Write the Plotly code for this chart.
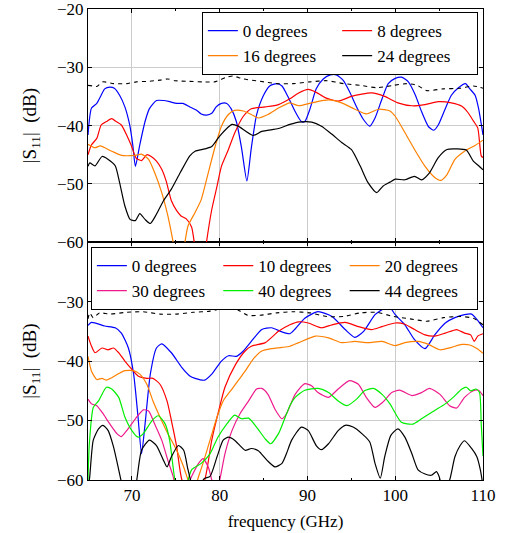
import plotly.graph_objects as go

# ---------------- top panel data ----------------
TOP_NAMES = ["0 degrees", "8 degrees", "16 degrees", "24 degrees"]

top_f_0 = [65, 65.4, 66, 66.5, 66.9, 67.5, 68, 68.6, 69.2, 69.75, 70.1, 70.4, 70.9, 71.5, 72, 72.8, 73.6, 74.3, 75.1, 75.8,
           76.6, 77.4, 77.9, 78.5, 79.1, 79.6, 80.2, 80.8, 81.3, 81.9, 82.5, 83.1, 83.6, 84.2, 85, 85.7, 86.5, 87.1, 87.8, 88.6,
           89.3, 89.7, 90.3, 91, 91.8, 92.6, 93.3, 94.1, 94.8, 95.6, 96.4, 97.1, 97.7, 98.5, 99.2, 100, 100.7, 101.5, 102.3, 103,
           103.8, 104.4, 104.9, 105.7, 106.4, 107.2, 108, 108.5, 109.1, 109.5, 110]
top_db_0 = [-41.6, -37, -36.2, -34.8, -33.7, -33.4, -33.6, -34.8, -36.8, -39.9, -43.3, -47, -43.3, -39.3, -37.1, -35.7, -35.7, -35.9, -36.2, -36.2,
            -36.8, -37.4, -38, -38.2, -37.9, -36.8, -36.2, -36.2, -37.1, -39.3, -43.9, -49.5, -43.9, -38.2, -34.8, -33.2, -32.8, -33.2, -35.1, -37.6,
            -39.3, -39.3, -37.1, -33.7, -32, -31.3, -31.3, -32.3, -34.2, -36.8, -39, -40.1, -38.7, -35.4, -32.8, -31.9, -31.7, -32.5, -34.8, -37.6,
            -40.2, -40.8, -39.9, -37.1, -34.8, -33.5, -32.8, -33.7, -34.8, -37.1, -41.6]

top_f_8 = [65, 65.4, 66, 66.5, 67.1, 67.7, 68.2, 68.8, 69.4, 69.9, 70.5, 71.1, 71.7, 72.2, 72.8, 73.4, 73.9, 74.5, 75.1, 75.6,
           76.2, 76.8, 77.1, 77.8, 78.5, 79.1, 79.7, 80.2, 81, 81.7, 82.7, 83.6, 85.2, 86.7, 88, 89, 90.1, 91, 92, 93.5,
           95, 96.2, 97.3, 98.8, 100.3, 101.9, 103.4, 104.9, 106.4, 107.6, 108.3, 108.9, 109.4, 109.8, 110]
top_db_8 = [-45, -43.3, -42.2, -39.9, -39.3, -38.8, -39.3, -39.9, -41.6, -43.3, -45.6, -46, -45, -45.3, -46.1, -47.5, -49.5, -52.9, -54.6, -55.5,
            -56, -57.4, -60, -68, -60, -54.4, -50.4, -47, -44.1, -41.3, -38.4, -37.1, -36.8, -36.4, -35.4, -34.4, -33.8, -34.3, -35.2, -35.8,
            -35, -34.6, -34.4, -35, -36.1, -36.6, -36.4, -35.9, -36.1, -36.7, -37.8, -39.2, -40.4, -45.2, -45.5]

top_f_16 = [65, 65.8, 66.4, 67.7, 68.8, 70.4, 71.1, 71.9, 72.6, 73.4, 74.1, 74.7, 75.4, 76, 76.4, 77.2, 77.9, 78.7, 79.5, 80.2,
            81, 81.7, 82.7, 83.6, 84.4, 85.5, 86.7, 88, 89, 90.5, 92.4, 93.9, 95.4, 96.7, 98.1, 99.4, 100, 101.1, 102.2, 103.4,
            104.5, 105.2, 105.9, 106.8, 107.9, 109.1, 110]
top_db_16 = [-43.2, -43.8, -43.5, -44.4, -45.1, -45.1, -44.9, -45.8, -48.1, -51.5, -55.5, -60, -66, -60.4, -57.2, -54.9, -52.7, -48.1, -43.5, -40.1,
             -38.1, -37.4, -37.5, -38.1, -38.7, -38.1, -37, -36.1, -36.6, -36.1, -35.6, -36.1, -37.2, -38, -37.2, -37.5, -38.4, -41.2, -44.1, -47,
             -48.9, -49.4, -48.4, -45.8, -44.4, -43.4, -42.5]

top_f_24 = [65, 65.2, 65.8, 66.6, 67.3, 68.1, 68.6, 69.2, 69.8, 70.4, 70.9, 71.5, 72.1, 72.8, 73.6, 74.5, 75.5, 76.6, 77.2, 78.3,
            79.1, 80, 81.4, 82.1, 83.8, 84.8, 86.7, 88, 89, 90.5, 91.6, 92.8, 93.9, 95, 96, 96.9, 97.9, 98.6, 99.4, 100,
            101.1, 102.2, 103, 103.9, 104.9, 105.9, 107, 108.1, 108.9, 109.5, 110]
top_db_24 = [-47, -46.4, -46.9, -45.3, -45.8, -46.9, -49.8, -53.8, -56.1, -56.3, -55.1, -56.1, -56.8, -55.2, -52.9, -50.9, -48.1, -45.2, -44.4, -44,
             -43.6, -41.8, -39.8, -40.1, -41.7, -41, -40.5, -39.8, -39.4, -39.4, -40.1, -41.5, -42.9, -44.1, -46.9, -49.8, -51.5, -50.4, -49.7, -49.2,
             -49.3, -48.7, -49.3, -48.1, -45.5, -44.1, -44, -44.2, -46.1, -46.9, -47.6]

top_f_ref = [65, 65.5, 66, 66.7, 67.9, 69.4, 70.5, 72, 73.2, 74.1, 74.9, 76.2, 78.1, 79.4, 80.8, 81.5, 82.7, 84.6, 86.5, 88.4,
             90.3, 92.2, 94.1, 96, 97.9, 99.8, 101.3, 102.5, 103.6, 105.5, 107.4, 108.9, 110]
top_db_ref = [-33.1, -33.2, -33.3, -32.5, -32.8, -32.8, -32.5, -32.4, -32.2, -32, -32.3, -32.4, -32.5, -32.5, -31.7, -31.5, -32, -32.4, -32.8, -32.8,
              -32.5, -32.3, -32.8, -33.1, -33.5, -33.1, -32.8, -33.1, -34, -33.7, -33.6, -33.2, -33.6]

# ---------------- bottom panel data ----------------
BOT_NAMES = ["0 degrees", "10 degrees", "20 degrees", "30 degrees", "40 degrees", "44 degrees"]

bot_f_0 = [65, 65.4, 66.9, 68.1, 68.8, 69.6, 70.2, 70.7, 71.1, 71.5, 72.1, 72.8, 73.4, 74.5, 75.7, 76.6, 77.2, 78.3, 79.1, 80.2,
           81, 81.9, 82.7, 83.6, 84.8, 85.9, 87.1, 88, 88.6, 89.7, 91.2, 92.8, 94.3, 95.4, 96.4, 97.7, 98.8, 99.4, 100, 101.1,
           102.2, 103.4, 104.5, 105.7, 106.8, 107.9, 108.7, 109.3, 110]
bot_db_0 = [-34, -33.5, -34.1, -34.4, -35.3, -37.8, -42.2, -49.4, -55.6, -50.6, -42.2, -37.8, -37.1, -38.6, -41.1, -42.5, -42.9, -43.2, -42.2, -40,
            -39.1, -39.2, -38.3, -36.7, -34.7, -34.4, -35.1, -35.4, -34.6, -32.8, -31.7, -32.5, -34.7, -36, -35, -32.2, -31.1, -31, -32.2, -33.9,
            -36.4, -37.9, -35.6, -33.6, -32.7, -32.2, -32.1, -33, -34.4]

bot_f_10 = [65, 65.4, 65.8, 66.6, 67.3, 67.9, 68.5, 69.2, 70, 70.7, 71.7, 72.4, 73.2, 74, 74.5, 75.1, 75.7, 77, 78.3, 79.1,
            79.9, 80.6, 81.8, 82.9, 83.6, 85.2, 86.7, 88, 89, 90.1, 91.6, 92.8, 94.3, 95.8, 97.3, 98.5, 100, 101.1, 102.2, 103.4,
            104.5, 105.7, 107, 107.9, 108.6, 109, 109.4, 110]
bot_db_10 = [-35.8, -37.5, -38.6, -37.8, -38.1, -37.8, -38.6, -40, -41.4, -42.5, -42.9, -42.9, -43.9, -46.7, -50, -54.4, -60, -64, -60, -53.3,
             -48.3, -44.4, -40.6, -38.3, -37.5, -36.9, -35, -33.9, -33.4, -33.6, -34.4, -33.9, -33.5, -34.2, -34.7, -34.2, -33.6, -33.8, -34.7, -35.6,
             -35.8, -35.3, -34.7, -35.3, -35.6, -36.7, -35.8, -35.4]

bot_f_20 = [65, 65.4, 66, 66.6, 67.1, 67.7, 68.5, 69.2, 70.2, 70.9, 71.7, 72.4, 73.2, 74.1, 75.1, 75.9, 76.4, 77, 77.6, 78.1,
            78.9, 79.7, 80.4, 81.4, 82.1, 82.9, 83.8, 84.8, 85.9, 87.1, 88, 89, 90.9, 92.4, 93.9, 95.4, 96.9, 98.5, 100, 101.1,
            102.6, 103.8, 105.1, 106.4, 107.6, 108.5, 109.3, 110]
bot_db_20 = [-39.2, -41.7, -43.1, -42.9, -43.2, -42.8, -42.1, -41.6, -41.6, -42.2, -43.9, -46.7, -49.4, -52.2, -55, -57.8, -60, -62, -59.4, -57.2,
             -53.3, -49.4, -46.7, -44.7, -43.3, -41.7, -39.7, -38.3, -37.9, -37.7, -37.5, -36.9, -35.8, -36.1, -36.9, -36.7, -36.9, -36.7, -37.4, -36.9,
             -36.7, -37.2, -38.1, -37.7, -37.2, -37.3, -37.9, -38.7]

bot_f_30 = [65, 65.4, 66, 66.6, 67.5, 68.3, 68.8, 69.4, 70.4, 71.3, 71.9, 72.6, 73.4, 74.1, 74.7, 75.4, 76.8, 77.6, 78.1, 78.7,
            79.1, 79.5, 80, 80.6, 81.4, 82.3, 83.3, 84.2, 84.8, 85.5, 86.3, 87.1, 87.6, 88.6, 89.7, 90.5, 91.2, 92.4, 93.5, 94.8,
            95.8, 96.7, 97.7, 98.6, 99.6, 100.5, 101.9, 103, 103.9, 105.1, 106.2, 107, 107.9, 108.9, 109.5, 110]
bot_db_30 = [-46.4, -47.2, -47.5, -48.6, -50.6, -52.2, -52.7, -51.7, -49.7, -48.2, -48.4, -50.6, -53.3, -56.7, -59.4, -64, -59.4, -57.2, -56.4, -57.8,
             -60, -62, -60, -55.6, -51.7, -48.9, -46.7, -44.7, -44.6, -45.6, -48.1, -49.7, -48.9, -45.6, -43.8, -44.2, -45.3, -46.1, -44.7, -43.3,
             -43.9, -46.1, -47.8, -46.9, -45.3, -44.9, -45.8, -45.3, -44.6, -45.6, -47.5, -47.9, -46.1, -45, -44.9, -45.8]

bot_f_40 = [65, 65.15, 65.6, 66.2, 67.1, 67.7, 68.5, 69.2, 70, 70.7, 71.3, 72.3, 73, 73.8, 74.3, 74.9, 75.5, 76.3, 76.8, 77.9,
            78.9, 79.8, 80.8, 81.7, 82.5, 83.3, 84.2, 85.2, 85.8, 86.7, 87.4, 88, 88.6, 89.7, 91.2, 92.4, 93.5, 94.5, 95.6, 96.5,
            97.5, 98.5, 99.4, 100.7, 102, 103, 104.5, 105.7, 106.6, 107.6, 108.1, 108.6, 109.2, 109.6, 109.8, 110]
bot_db_40 = [-60, -54, -47.8, -46.7, -44.4, -44.7, -46.1, -49.4, -51.7, -52.8, -52.2, -50, -49.2, -50.6, -53.3, -60, -63, -60.5, -58.3, -57.2,
             -55.6, -52.8, -50.6, -49.1, -49.7, -49.6, -51.1, -53.1, -53.9, -52.2, -49.7, -47.5, -46.1, -44.9, -44.6, -45.3, -46.7, -47.5, -46.4, -45,
             -44.6, -45.6, -47.2, -50.3, -50.6, -49.7, -48.3, -47.2, -46.1, -44.7, -44.4, -45, -44.7, -45.3, -50.6, -56]

bot_f_44 = [65, 65.2, 65.6, 66.2, 66.7, 67.3, 67.9, 68.5, 68.9, 69.6, 70.5, 71.1, 72, 72.8, 73.6, 74, 74.5, 75.3, 75.9, 76.4,
            77.3, 78.2, 78.9, 79.7, 80.4, 81, 81.7, 82.9, 83.6, 84.4, 85.4, 86.3, 87.1, 87.6, 88.2, 89.3, 90.1, 91, 91.6, 92.4,
            93.5, 94.3, 95.2, 96.2, 97.1, 97.7, 98.3, 98.8, 99.5, 100.3, 101.1, 101.9, 102.6, 103.4, 104.1, 104.7, 105, 105.5, 106.2, 106.8,
            107.4, 107.9, 108.7, 109.3, 109.7, 110]
bot_db_44 = [-62, -59.4, -53.3, -51.4, -50.8, -51.7, -54.4, -58.3, -61, -66, -60.5, -55, -53.3, -54.2, -56.7, -57.8, -56.1, -54.2, -55, -58.3,
             -63, -59.8, -59.4, -56.1, -53.3, -52.8, -53.3, -55, -54.7, -55.1, -56.7, -57.8, -57.2, -55.6, -53.3, -51.1, -51.7, -54.2, -54.9, -53.9,
             -51.7, -50.8, -51.1, -52.2, -53.6, -57.2, -59.7, -56.1, -52.5, -51.4, -52.8, -55.6, -58.3, -59, -59.2, -58.6, -59.4, -62, -60, -56.1,
             -54.2, -53.4, -54.7, -56.1, -58.3, -61]

bot_f_ref = [65, 65.2, 65.6, 66.3, 67.5, 69.4, 71.3, 73.2, 75.1, 77, 78.9, 80.4, 81.3, 82.1, 83.2, 84.6, 86.5, 88.4, 90.3, 92.2,
             94.1, 96, 97.9, 99.8, 101.7, 103.6, 105.5, 107.4, 108.9, 110]
bot_db_ref = [-32.9, -31.9, -32.7, -31.9, -32.1, -31.8, -31.7, -32.1, -32.1, -31.8, -31.6, -31.1, -30.7, -31.4, -32.3, -32.3, -31.9, -31.7, -31.9, -32.5,
              -32.5, -31.9, -31.8, -32.5, -32.9, -33.3, -32.7, -32.5, -32.8, -33.9]

X_TICKS = [70, 80, 90, 100, 110]
TOP_Y_TICKS = [-60, -50, -40, -30, -20]
BOT_Y_TICKS = [-60, -50, -40, -30]

BLUE, RED, ORANGE, BLACK = "#0000ff", "#ff0000", "#ff8000", "#000000"
PINK, GREEN = "#ee1a8c", "#00ee00"
FONT = "Liberation Serif"
FS = 17

fig = go.Figure()

top_series = [(TOP_NAMES[0], top_f_0, top_db_0, BLUE), (TOP_NAMES[1], top_f_8, top_db_8, RED),
              (TOP_NAMES[2], top_f_16, top_db_16, ORANGE), (TOP_NAMES[3], top_f_24, top_db_24, BLACK)]
for name, f, v, c in top_series:
    fig.add_trace(go.Scatter(x=f, y=v, name=name, mode="lines", xaxis="x2", yaxis="y2", legend="legend",
                             line=dict(color=c, width=1.2, shape="spline", smoothing=0.6)))
fig.add_trace(go.Scatter(x=top_f_ref, y=top_db_ref, mode="lines", xaxis="x2", yaxis="y2", showlegend=False,
                         line=dict(color=BLACK, width=1.1, dash="4px,4px", shape="spline", smoothing=0.6)))

bot_series = [(BOT_NAMES[0], bot_f_0, bot_db_0, BLUE), (BOT_NAMES[1], bot_f_10, bot_db_10, RED),
              (BOT_NAMES[2], bot_f_20, bot_db_20, ORANGE), (BOT_NAMES[3], bot_f_30, bot_db_30, PINK),
              (BOT_NAMES[4], bot_f_40, bot_db_40, GREEN), (BOT_NAMES[5], bot_f_44, bot_db_44, BLACK)]
for name, f, v, c in bot_series:
    fig.add_trace(go.Scatter(x=f, y=v, name=name, mode="lines", xaxis="x", yaxis="y", legend="legend2",
                             line=dict(color=c, width=1.2, shape="spline", smoothing=0.6)))
fig.add_trace(go.Scatter(x=bot_f_ref, y=bot_db_ref, mode="lines", xaxis="x", yaxis="y", showlegend=False,
                         line=dict(color=BLACK, width=1.1, dash="4px,4px", shape="spline", smoothing=0.6)))

axis_common = dict(showline=True, linecolor="black", linewidth=1, mirror="ticks", ticks="inside",
                   ticklen=4, tickcolor="black", showgrid=True, gridcolor="#cccccc", gridwidth=1,
                   zeroline=False, automargin=False, ticklabeloverflow="allow",
                   tickfont=dict(family=FONT, size=FS, color="black"))

fig.update_layout(
    width=508, height=533,
    margin=dict(l=88, r=25, t=9, b=53),
    paper_bgcolor="white", plot_bgcolor="white",
    font=dict(family=FONT, size=FS, color="black"),
    xaxis=dict(domain=[0, 1], range=[65, 110], anchor="y", tickvals=X_TICKS,
               title=dict(text="frequency (GHz)", font=dict(family=FONT, size=FS), standoff=10),
               minor=dict(dtick=5, tick0=65, ticks="inside", ticklen=2, tickcolor="black", showgrid=False),
               **axis_common),
    xaxis2=dict(domain=[0, 1], range=[65, 110], anchor="y2", matches="x", tickvals=X_TICKS, showticklabels=False,
                minor=dict(dtick=5, tick0=65, ticks="inside", ticklen=2, tickcolor="black", showgrid=False),
                **axis_common),
    yaxis=dict(domain=[0, 0.505], range=[-60, -20], anchor="x", tickvals=BOT_Y_TICKS,
               title=dict(text="|S<sub>11</sub>|  (dB)", font=dict(family=FONT, size=19), standoff=15),
               **axis_common),
    yaxis2=dict(domain=[0.505, 1], range=[-60, -20], anchor="x2", tickvals=TOP_Y_TICKS,
                title=dict(text="|S<sub>11</sub>|  (dB)", font=dict(family=FONT, size=19), standoff=15),
                **axis_common),
    legend=dict(x=0.987, xanchor="right", y=0.9936, yanchor="top", orientation="h",
                bordercolor="black", borderwidth=1, bgcolor="white",
                font=dict(family=FONT, size=FS), entrywidthmode="fraction", entrywidth=0.34,
                itemwidth=30, traceorder="normal"),
    legend2=dict(x=0.987, xanchor="right", y=0.4947, yanchor="top", orientation="h",
                 bordercolor="black", borderwidth=1, bgcolor="white",
                 font=dict(family=FONT, size=FS), entrywidthmode="fraction", entrywidth=0.32,
                 itemwidth=30, traceorder="normal"),
)

fig.write_html("out.html", config={"displayModeBar": False},
               post_script="document.body.style.margin='0';document.body.style.overflow='hidden';")
